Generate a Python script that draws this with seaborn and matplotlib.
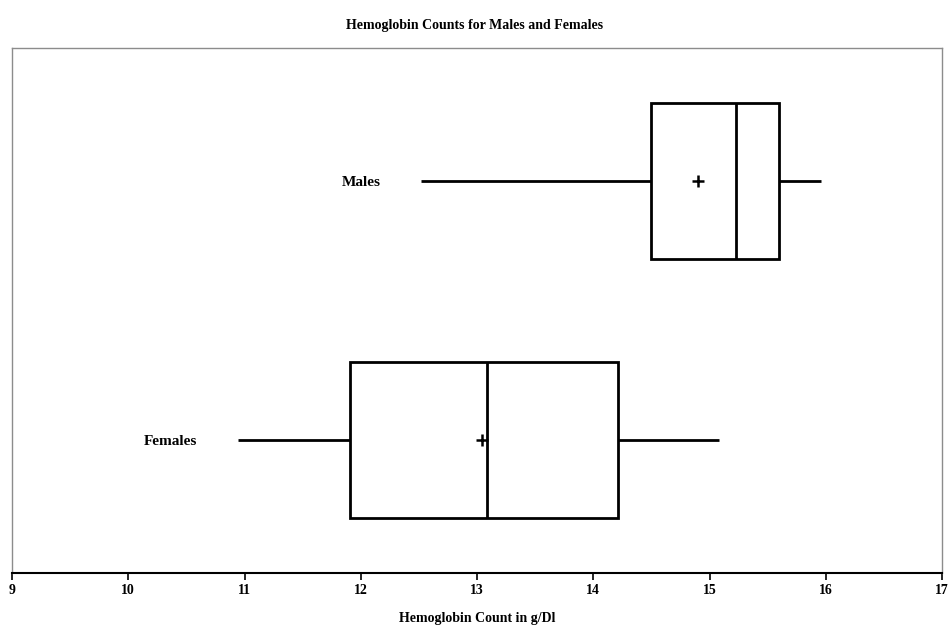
import seaborn as sns
import numpy as np
import pandas as pd
import matplotlib.pyplot as plt

# five-number summaries (min, q1, median, q3, max)
groups = ["Males", "Females"]
males = [12.52, 14.50, 15.23, 15.60, 15.96]
females = [10.94, 11.91, 13.09, 14.21, 15.08]
means = [14.90, 13.04]
xticks = [9, 10, 11, 12, 13, 14, 15, 16, 17]

df = pd.DataFrame({
    "group": ["Males"] * len(males) + ["Females"] * len(females),
    "value": males + females,
})

sns.set_style("white")
plt.rcParams["font.family"] = ["Liberation Serif", "DejaVu Serif"]
plt.rcParams["font.weight"] = "bold"
plt.rcParams["text.color"] = "black"
plt.rcParams["xtick.color"] = "black"
plt.rcParams["axes.labelcolor"] = "black"

fig = plt.figure(figsize=(9.5, 6.3), dpi=100)
ax = fig.add_axes([12 / 950, 57 / 630, 930 / 950, 525 / 630])

lw = 2.0
sns.boxplot(data=df, x="value", y="group", order=groups, orient="h",
            whis=(0, 100), showcaps=False, width=0.6,
            color="white", linecolor="black", linewidth=lw, saturation=1,
            ax=ax)

mean_df = pd.DataFrame({"group": groups, "mean": means})
sns.scatterplot(data=mean_df, x="mean", y="group", marker="+", s=70,
                color="black", linewidth=1.8, ax=ax, zorder=5)

# category labels sit inside the plot, left of each lower whisker
lows = [males[0], females[0]]
for i, (g, lo) in enumerate(zip(groups, lows)):
    ax.text(lo - 0.35, i + 0.005, g, ha="right", va="center",
            fontsize=11, fontweight="bold", color="black")

ax.set_xlim(9, 17)
ax.set_ylim(1.513, -0.513)
ax.set_xticks(xticks)
ax.set_xticklabels([str(t) for t in xticks], fontsize=10, fontweight="bold")
ax.set_yticks([])
ax.set_ylabel("")
ax.set_xlabel("Hemoglobin Count in g/Dl", fontsize=10, fontweight="bold",
              labelpad=11)
ax.tick_params(axis="x", direction="out", length=5, width=1.2,
               color="black", pad=3, bottom=True)

for side in ["top", "left", "right"]:
    ax.spines[side].set_color("#8c8c8c")
    ax.spines[side].set_linewidth(1.0)
ax.spines["bottom"].set_color("black")
ax.spines["bottom"].set_linewidth(1.5)

fig.text(0.5, 1 - 25 / 630, "Hemoglobin Counts for Males and Females",
         ha="center", va="center", fontsize=10, fontweight="bold")

fig.savefig("out.png", dpi=100)
